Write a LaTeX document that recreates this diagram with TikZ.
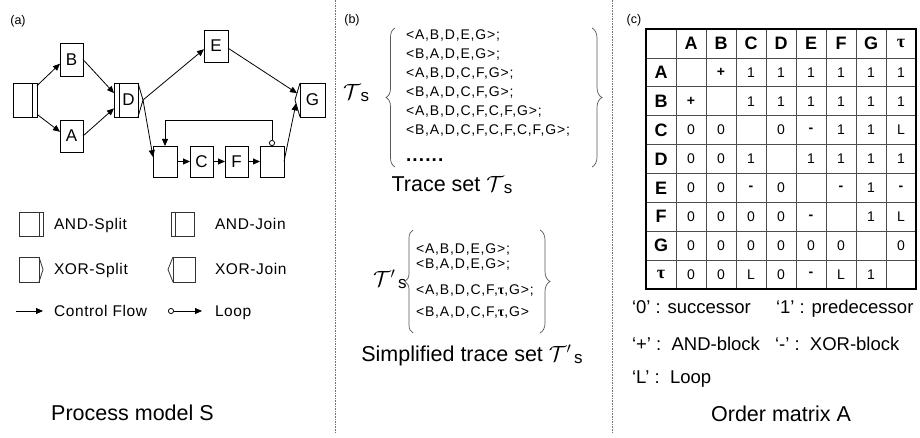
\RequirePackage{fix-cm}
\documentclass[tikz,border=0pt]{standalone}
\usepackage{fontspec}
\setmainfont{Liberation Sans}
\newfontfamily\greekfont{Liberation Serif}
\newfontfamily\tracefont[LetterSpace=6]{Liberation Sans}
\newfontfamily\legfont[LetterSpace=4]{Liberation Sans}
\usetikzlibrary{arrows.meta,calc,matrix,decorations.pathreplacing}
\newcommand{\fsz}[1]{\fontsize{#1}{#1}\selectfont}
\newcommand{\calT}{\ensuremath{\mathcal{T}}}
\begin{document}
\begin{tikzpicture}[x=1pt,y=-1pt,
  txt/.style={inner sep=0pt, outer sep=0pt},
  box/.style={draw=black, line width=0.8pt, minimum width=24pt, minimum height=33pt, inner sep=0pt, outer sep=0pt, font=\fsz{17}},
  lowbox/.style={box, minimum height=31pt},
  arr/.style={line width=0.8pt, -{Triangle[length=7pt,width=6pt]}},
  looparr/.style={line width=0.8pt, {Circle[open,length=6pt]}-{Triangle[length=7pt,width=6pt]}},
  gw/.style={draw=black, line width=0.8pt},
  icon/.style={draw=black!80, line width=0.8pt},
  divider/.style={draw=black!55, line width=0.8pt, dash pattern=on 1.6pt off 1pt},
  brc/.style={decorate, decoration={brace, amplitude=#1}, draw=black!65, line width=0.7pt},
  gridln/.style={draw=black!70, line width=0.7pt},
  trace/.style={txt, anchor=base west, font=\tracefont\fsz{14}},
  legtxt/.style={txt, anchor=base west, font=\legfont\fsz{15.5}},
  keytxt/.style={txt, anchor=base west, font=\fsz{18.5}},
  title/.style={txt, anchor=base, font=\fsz{21.5}}]

\useasboundingbox[fill=white] (0,0) rectangle (920,438);

% separators
\draw[divider] (335,0) -- (335,432);
\draw[divider] (612,0) -- (612,432);

% ---------------- (a) process model ----------------
\node[txt, font=\fsz{12.5}] (la) at (18,21) {(a)};

\node[box, minimum height=34pt] (S0) at (25,100) {};
\node[box, minimum width=23pt] (B) at (71.5,59.5) {B};
\node[box, minimum width=23pt, minimum height=32pt] (A) at (71.5,136) {A};
\node[box, minimum height=34pt] (D) at (126,100) {\hspace*{5pt}D};
\node[box, minimum height=32pt] (E) at (216,46) {E};
\node[box, minimum width=25pt, minimum height=34pt] (G) at (312.5,100) {G};
\node[lowbox] (X1) at (165,161.5) {};
\node[lowbox, minimum width=23pt] (C) at (201.5,161.5) {C};
\node[lowbox, minimum width=23pt] (F) at (236.5,161.5) {F};
\node[lowbox] (X2) at (272,161.5) {};

% gateway marks
\draw[gw] ($(S0.north east)+(-5,0)$) -- ($(S0.south east)+(-5,0)$);
\draw[gw] ($(D.north west)+(5,0)$) -- ($(D.south west)+(5,0)$);
\coordinate (Dtip) at ($(D.east)+(5,0)$);
\draw[gw] (D.north east) -- (Dtip) -- (D.south east);
\coordinate (Gtip) at ($(G.west)+(-5,0)$);
\draw[gw] (G.north west) -- (Gtip) -- (G.south west);
\coordinate (Gin1) at ($(G.north west)!0.6!(Gtip)$);
\coordinate (Gin2) at ($(G.south west)!0.8!(Gtip)$);

% control flow
\draw[arr] (S0.50) -- (B.200);
\draw[arr] (S0.-50) -- (A.160);
\draw[arr] (B.east) -- (D.150);
\draw[arr] (A.east) -- (D.215);
\draw[arr] (Dtip) -- (E.195);
\draw[arr] (Dtip) -- (X1.160);
\draw[arr] (E.-10) -- (Gin1);
\draw[arr] (X2.east) -- (Gin2);
\draw[arr] (X1.east) -- (C.west);
\draw[arr] (C.east) -- (F.west);
\draw[arr] (F.east) -- (X2.west);
\draw[looparr] (X2.north) -- ++(0,-26) -| (X1.north);

% legend
\draw[icon] (19,212) rectangle (43,236);
\draw[icon] (39,212) -- (39,236);
\draw[icon] (171,212) rectangle (194,236);
\draw[icon] (175,212) -- (175,236);
\draw[icon] (19,257) rectangle (39,282);
\draw[icon] (39,257) -- (43,269.5) -- (39,282);
\draw[icon] (173,257) rectangle (195,282);
\draw[icon] (173,257) -- (168,269.5) -- (173,282);
\coordinate (cf1) at (16,311);
\coordinate (cf2) at (43,311);
\draw[arr] (cf1) -- (cf2);
\coordinate (lp1) at (168,311);
\coordinate (lp2) at (202,311);
\draw[looparr] (lp1) -- (lp2);

\node[legtxt] (l1) at (54,229.5) {AND-Split};
\node[legtxt] (l2) at (215,229.5) {AND-Join};
\node[legtxt] (l3) at (54,274) {XOR-Split};
\node[legtxt] (l4) at (215,274) {XOR-Join};
\node[legtxt] (l5) at (54,316.5) {Control Flow};
\node[legtxt] (l6) at (215,316.5) {Loop};

\node[title] (ta) at (132.5,420) {Process model S};

% ---------------- (b) traces ----------------
\node[txt, font=\fsz{12.5}] (lb) at (352,20) {(b)};

\node[txt, anchor=base west] (Ts) at (343,100) {{\fsz{22}\calT}\raisebox{-2pt}{\fsz{17}s}};
\draw[brc=9pt] (395,167) -- (395,28);
\draw[brc=10pt] (592,28) -- (592,167);
\node[trace] (t1) at (406,40) {<A,B,D,E,G>;};
\node[trace] (t2) at (406,59) {<B,A,D,E,G>;};
\node[trace] (t3) at (406,78) {<A,B,D,C,F,G>;};
\node[trace] (t4) at (406,97) {<B,A,D,C,F,G>;};
\node[trace] (t5) at (406,116) {<A,B,D,C,F,C,F,G>;};
\node[trace] (t6) at (406,135) {<B,A,D,C,F,C,F,C,F,G>;};
\node[trace, font=\tracefont\fsz{19}\bfseries] (t7) at (406,162) {......};
\node[title] (tb) at (452,191.5) {Trace set {\fsz{22}\calT}\raisebox{-2pt}{\fsz{17}s}};

\node[txt, anchor=base west] (Tps) at (373,286.5) {{\fsz{22}\calT$'$}\raisebox{-2pt}{\fsz{17}\,s}};
\draw[brc=8pt] (413,333) -- (413,230);
\draw[brc=10pt] (540,230) -- (540,333);
\node[trace] (s1) at (416,254) {<A,B,D,E,G>;};
\node[trace] (s2) at (416,269) {<B,A,D,E,G>;};
\node[trace] (s3) at (416,294) {<A,B,D,C,F,{\greekfont\bfseries τ},G>;};
\node[trace] (s4) at (416,316) {<B,A,D,C,F,{\greekfont\bfseries τ},G>};
\node[title] (tb2) at (472,361.5) {Simplified trace set {\fsz{22}\calT$'$}\raisebox{-2pt}{\fsz{17}\,s}};

% ---------------- (c) order matrix ----------------
\node[txt, font=\fsz{12.5}] (lc) at (634,20) {(c)};

\matrix (M) [matrix of nodes, nodes in empty cells, anchor=north west,
  inner sep=0pt, outer sep=0pt, column sep=0pt, row sep=0pt,
  nodes={minimum width=30pt, minimum height=28.889pt, inner sep=0pt, outer sep=0pt, anchor=center, font=\fsz{14}},
  row 1/.style={nodes={font=\fsz{18}\bfseries}},
  column 1/.style={nodes={font=\fsz{18}\bfseries}}] at (646,29) {
   & A & B & C & D & E & F & G & {\greekfont\bfseries τ} \\
  A &  & \textbf{+} & 1 & 1 & 1 & 1 & 1 & 1 \\
  B & \textbf{+} &  & 1 & 1 & 1 & 1 & 1 & 1 \\
  C & 0 & 0 &  & 0 & \textbf{-} & 1 & 1 & L \\
  D & 0 & 0 & 1 &  & 1 & 1 & 1 & 1 \\
  E & 0 & 0 & \textbf{-} & 0 &  & \textbf{-} & 1 & \textbf{-} \\
  F & 0 & 0 & 0 & 0 & \textbf{-} &  & 1 & L \\
  G & 0 & 0 & 0 & 0 & 0 & 0 &  & 0 \\
  {\greekfont\bfseries τ} & 0 & 0 & L & 0 & \textbf{-} & L & 1 &  \\
};
\foreach \c in {1,...,8} \draw[gridln] (M-1-\c.north east) -- (M-9-\c.south east);
\foreach \r in {1,...,8} \draw[gridln] (M-\r-1.south west) -- (M-\r-9.south east);
\draw[draw=black, line width=1.8pt] (M-1-1.north west) rectangle (M-9-9.south east);

\node[keytxt] (k1) at (632,313) {‘0’ : successor};
\node[keytxt] (k2) at (776,313) {‘1’ : predecessor};
\node[keytxt] (k3) at (632,350) {‘+’ :~~AND-block};
\node[keytxt] (k4) at (775,350) {‘-’ :~~XOR-block};
\node[keytxt] (k5) at (632,383) {‘L’ :~~Loop};
\node[title] (tc) at (781,421.5) {Order matrix A};
\end{tikzpicture}
\end{document}
